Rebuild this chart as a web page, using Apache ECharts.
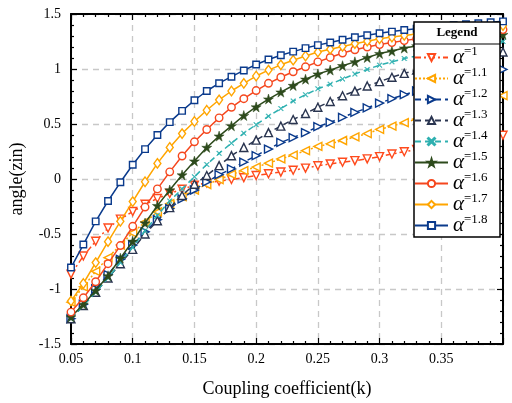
<!DOCTYPE html>
<html><head><meta charset="utf-8">
<script src="https://cdn.jsdelivr.net/npm/echarts@6/dist/echarts.min.js"></script>
<style>html,body{margin:0;padding:0;background:#fff}#c{width:512px;height:403px}</style>
</head><body><div id="c"></div>
<script>
const k = [0.05,0.06,0.07,0.08,0.09,0.10,0.11,0.12,0.13,0.14,0.15,0.16,0.17,0.18,0.19,0.20,0.21,0.22,0.23,0.24,0.25,0.26,0.27,0.28,0.29,0.30,0.31,0.32,0.33,0.34,0.35,0.36,0.37,0.38,0.39,0.40];
const alphaNames = ['1','1.1','1.2','1.3','1.4','1.5','1.6','1.7','1.8'];
const a10 = [-0.865,-0.70,-0.566,-0.445,-0.365,-0.296,-0.23,-0.177,-0.132,-0.093,-0.057,-0.035,-0.02,-0.005,0.012,0.032,0.048,0.063,0.08,0.099,0.12,0.137,0.152,0.167,0.183,0.203,0.227,0.248,0.268,0.287,0.306,0.325,0.343,0.361,0.38,0.398];
const a11 = [-1.12,-0.98,-0.84,-0.715,-0.60,-0.49,-0.39,-0.30,-0.225,-0.16,-0.10,-0.05,-0.005,0.041,0.077,0.108,0.144,0.182,0.218,0.257,0.296,0.32,0.35,0.382,0.413,0.452,0.481,0.512,0.545,0.575,0.605,0.635,0.665,0.695,0.727,0.757];
const a12 = [-1.27,-1.14,-1.0,-0.87,-0.73,-0.60,-0.48,-0.37,-0.27,-0.18,-0.10,-0.027,0.039,0.092,0.153,0.212,0.272,0.332,0.377,0.422,0.476,0.515,0.56,0.605,0.646,0.69,0.73,0.766,0.80,0.833,0.865,0.893,0.92,0.946,0.971,0.996];
const a13 = [-1.27,-1.15,-1.03,-0.90,-0.77,-0.64,-0.50,-0.38,-0.26,-0.15,-0.048,0.032,0.122,0.212,0.287,0.353,0.422,0.481,0.541,0.595,0.652,0.705,0.757,0.799,0.846,0.885,0.925,0.96,0.99,1.02,1.045,1.07,1.092,1.113,1.134,1.154];
const a14 = [-1.27,-1.15,-1.03,-0.90,-0.76,-0.62,-0.47,-0.33,-0.20,-0.09,0.02,0.131,0.233,0.326,0.416,0.494,0.571,0.64,0.709,0.766,0.82,0.862,0.909,0.954,0.996,1.035,1.065,1.095,1.12,1.143,1.164,1.183,1.20,1.218,1.234,1.25];
const a15 = [-1.254,-1.14,-1.014,-0.88,-0.72,-0.566,-0.40,-0.242,-0.10,0.037,0.163,0.287,0.39,0.483,0.577,0.655,0.727,0.79,0.85,0.907,0.954,0.99,1.03,1.065,1.104,1.14,1.163,1.19,1.21,1.228,1.245,1.26,1.274,1.288,1.30,1.313];
const a16 = [-1.21,-1.08,-0.934,-0.77,-0.605,-0.43,-0.255,-0.09,0.065,0.209,0.338,0.45,0.556,0.652,0.73,0.804,0.87,0.925,0.975,1.02,1.065,1.105,1.145,1.175,1.2,1.222,1.24,1.258,1.275,1.29,1.304,1.317,1.328,1.338,1.348,1.358];
const a17 = [-1.11,-0.95,-0.76,-0.57,-0.385,-0.205,-0.025,0.142,0.287,0.413,0.523,0.625,0.72,0.80,0.87,0.936,0.99,1.038,1.08,1.118,1.154,1.18,1.205,1.23,1.253,1.275,1.29,1.305,1.318,1.33,1.342,1.353,1.364,1.374,1.384,1.394];
const a18 = [-0.805,-0.596,-0.385,-0.20,-0.03,0.13,0.272,0.40,0.517,0.619,0.716,0.80,0.871,0.93,0.987,1.041,1.086,1.125,1.158,1.19,1.217,1.241,1.266,1.289,1.307,1.325,1.34,1.354,1.366,1.377,1.388,1.398,1.407,1.416,1.425,1.433];
const allSeries = [a10,a11,a12,a13,a14,a15,a16,a17,a18];

const SERIF = '"Liberation Serif","DejaVu Serif",serif';
const STAR = 'path://M50,0 L61,35 L98,35 L68,57 L79,91 L50,70 L21,91 L32,57 L2,35 L39,35 Z';
const XMARK = 'path://M1,0 L5,4 L9,0 L10,1 L6,5 L10,9 L9,10 L5,6 L1,10 L0,9 L4,5 L0,1 Z';
const styles = [
  {c:'#FF4A1C', lt:[6,3,2,3], sym:'triangle', rot:180, size:8, hollow:true},
  {c:'#FFA500', lt:[2,2], sym:'triangle', rot:90, size:8, hollow:true},
  {c:'#0A3A8C', lt:[6,4], sym:'triangle', rot:-90, size:8, hollow:true},
  {c:'#2A3550', lt:[6,4], sym:'triangle', rot:0, size:8, hollow:true},
  {c:'#2EB0B0', lt:[6,4], sym:XMARK, rot:0, size:5, hollow:false},
  {c:'#2D4A1C', lt:'solid', sym:STAR, rot:0, size:10, hollow:false},
  {c:'#F5471E', lt:'solid', sym:'circle', rot:0, size:7.5, hollow:true},
  {c:'#FFA500', lt:'solid', sym:'diamond', rot:0, size:[7,9.5], hollow:true},
  {c:'#0A3A8C', lt:'solid', sym:'rect', rot:0, size:6.5, hollow:true}
];

const series = allSeries.map((arr,i)=>{
  const s = styles[i];
  return {
    name: alphaNames[i], type:'line', xAxisIndex:0, yAxisIndex:0,
    data: k.map((x,j)=>[x, arr[j]]),
    symbol: s.sym, symbolRotate: s.rot, symbolSize: s.size, showAllSymbol:true,
    lineStyle:{color:s.c, width:1.5, type:s.lt},
    itemStyle: s.hollow ? {color:'#fff', borderColor:s.c, borderWidth:1.4} : {color:s.c, borderColor:s.c, borderWidth:0.5},
    emphasis:{disabled:true}, animation:false, z: 3+i
  };
});

const axisLineStyle = {show:true, onZero:false, lineStyle:{color:'#000', width:2}};
const xCommon = {type:'value', min:0.05, max:0.4, interval:0.05,
  axisLine:axisLineStyle, axisTick:{show:true, inside:true, length:6, lineStyle:{color:'#000', width:1.2}},
  minorTick:{show:true, splitNumber:5, length:3, lineStyle:{color:'#000', width:1.2}}};
const yCommon = {type:'value', min:-1.5, max:1.5, interval:0.5,
  axisLine:axisLineStyle, axisTick:{show:true, inside:true, length:6, lineStyle:{color:'#000', width:1.2}},
  minorTick:{show:true, splitNumber:5, length:3, lineStyle:{color:'#000', width:1.2}}};

const chart = echarts.init(document.getElementById('c'));
chart.setOption({
  animation:false,
  backgroundColor:'#fff',
  grid:{left:69, right:9, top:14, bottom:55, containLabel:false},
  xAxis:[
    Object.assign({}, xCommon, {position:'bottom',
      axisLabel:{color:'#000', fontFamily:SERIF, fontSize:14, margin:8, showMaxLabel:false},
      splitLine:{show:true, lineStyle:{color:'#c8c8c8', width:1.3, type:[6,5]}},
      name:'Coupling coefficient(k)', nameLocation:'middle', nameGap:36,
      nameTextStyle:{color:'#000', fontFamily:SERIF, fontSize:18}}),
    Object.assign({}, xCommon, {position:'top', axisLabel:{show:false}, splitLine:{show:false}})
  ],
  yAxis:[
    Object.assign({}, yCommon, {position:'left',
      axisLabel:{color:'#000', fontFamily:SERIF, fontSize:14, margin:10, padding:[0,0,8,0]},
      splitLine:{show:true, lineStyle:{color:'#c8c8c8', width:1.3, type:[6,5]}},
      name:'angle(zin)', nameLocation:'middle', nameGap:45, nameRotate:90,
      nameTextStyle:{color:'#000', fontFamily:SERIF, fontSize:18}}),
    Object.assign({}, yCommon, {position:'right', axisLabel:{show:false}, splitLine:{show:false}})
  ],
  legend:{
    show:true, orient:'vertical', left:414, top:45, itemWidth:33, itemHeight:9, itemGap:-4,
    padding:0, z:20, selectedMode:false,
    data: alphaNames,
    formatter: n => '{a|α}{s|=' + n + '}',
    textStyle:{color:'#000', fontFamily:SERIF, rich:{
      a:{fontSize:21, fontStyle:'italic', fontFamily:SERIF, color:'#000', lineHeight:18},
      s:{fontSize:13, fontFamily:SERIF, color:'#000', padding:[0,0,12,0], lineHeight:6}
    }}
  },
  graphic:[
    {type:'rect', z:15, shape:{x:414, y:22, width:86, height:215},
     style:{fill:'#fff', stroke:'#000', lineWidth:1.5}},
    {type:'line', z:16, shape:{x1:414, y1:44, x2:500, y2:44}, style:{stroke:'#000', lineWidth:1.2}},
    {type:'text', z:16, x:457, y:33, style:{text:'Legend', align:'center', verticalAlign:'middle',
      font:'bold 13px "Liberation Serif", serif', fill:'#000'}}
  ],
  series: series
});
</script></body></html>
